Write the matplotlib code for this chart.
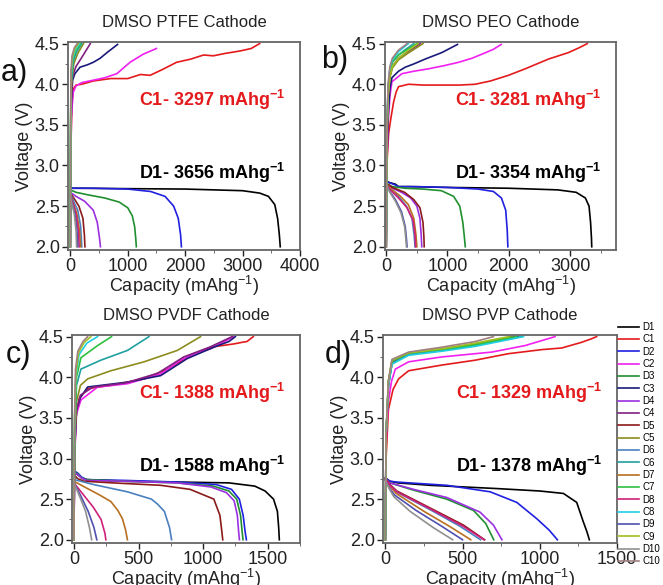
import matplotlib
matplotlib.use("Agg")
from matplotlib import pyplot as plt
from matplotlib.ticker import MultipleLocator, FormatStrFormatter

plt.rcParams['font.family'] = ['Liberation Sans', 'DejaVu Sans']
plt.rcParams['mathtext.fontset'] = 'custom'
plt.rcParams['mathtext.rm'] = 'Liberation Sans'
plt.rcParams['mathtext.bf'] = 'Liberation Sans:bold'

labels = ['D1', 'C1', 'D2', 'C2', 'D3', 'C3', 'D4', 'C4', 'D5', 'C5',
          'D6', 'C6', 'D7', 'C7', 'D8', 'C8', 'D9', 'C9', 'D10', 'C10']
colors = ['#000000', '#e41a1c', '#2020e0', '#f020f0', '#1f8f2f', '#1a1a7a',
          '#9b30e0', '#802080', '#8b1a1a', '#8c8c20', '#4a80c0', '#20a0a0',
          '#b87020', '#30c040', '#d0207a', '#20d0e0', '#5050b0', '#a0c020',
          '#909090', '#a08080']

titles = ['DMSO PTFE Cathode', 'DMSO PEO Cathode', 'DMSO PVDF Cathode', 'DMSO PVP Cathode']
panel_tags = ['a)', 'b)', 'c)', 'd)']
charge_text = ['C1- 3297 mAhg$^{\\mathbf{-1}}$', 'C1- 3281 mAhg$^{\\mathbf{-1}}$',
               'C1- 1388 mAhg$^{\\mathbf{-1}}$', 'C1- 1329 mAhg$^{\\mathbf{-1}}$']
disch_text = ['D1- 3656 mAhg$^{\\mathbf{-1}}$', 'D1- 3354 mAhg$^{\\mathbf{-1}}$',
              'D1- 1588 mAhg$^{\\mathbf{-1}}$', 'D1- 1378 mAhg$^{\\mathbf{-1}}$']

# capacity (mAh/g), voltage (V)
ptfe = {
    'D1': ([0, 30, 200, 1000, 2000, 3000, 3300, 3450, 3560, 3610, 3640, 3656],
           [2.74, 2.72, 2.72, 2.715, 2.71, 2.69, 2.66, 2.62, 2.52, 2.35, 2.15, 2.0]),
    'C1': ([0, 5, 15, 30, 60, 100, 200, 400, 700, 1000, 1220, 1390, 1600, 1850, 2100, 2320, 2490, 2700, 2960, 3150, 3297],
           [2.0, 2.7, 3.4, 3.8, 3.95, 3.99, 4.0, 4.04, 4.07, 4.07, 4.12, 4.11, 4.18, 4.27, 4.31, 4.36, 4.35, 4.38, 4.41, 4.44, 4.5]),
    'D2': ([0, 50, 400, 1000, 1400, 1650, 1800, 1880, 1920, 1935],
           [2.73, 2.72, 2.72, 2.71, 2.68, 2.62, 2.5, 2.35, 2.15, 2.0]),
    'C2': ([0, 5, 20, 50, 100, 200, 400, 600, 810, 1040, 1270, 1500],
           [2.0, 2.8, 3.6, 3.9, 3.98, 4.02, 4.05, 4.08, 4.13, 4.27, 4.37, 4.44]),
    'D3': ([0, 100, 300, 600, 850, 1000, 1080, 1120, 1140, 1150],
           [2.70, 2.67, 2.64, 2.6, 2.55, 2.48, 2.38, 2.25, 2.1, 2.0]),
    'C3': ([0, 5, 20, 40, 80, 170, 300, 400, 520, 640, 823],
           [2.0, 3.0, 3.8, 4.05, 4.13, 4.21, 4.24, 4.27, 4.32, 4.39, 4.49]),
    'D4': ([0, 100, 250, 400, 470, 510, 525],
           [2.67, 2.62, 2.56, 2.45, 2.3, 2.1, 2.0]),
    'C4': ([0, 5, 20, 40, 100, 200, 348],
           [2.0, 3.0, 3.9, 4.1, 4.22, 4.33, 4.5]),
    'D5': ([0, 60, 150, 220, 245, 255], [2.66, 2.6, 2.5, 2.35, 2.15, 2.0]),
    'C5': ([0, 5, 20, 60, 130, 230], [2.0, 3.2, 4.0, 4.25, 4.38, 4.5]),
    'D6': ([0, 50, 130, 180, 200], [2.65, 2.57, 2.45, 2.25, 2.0]),
    'C6': ([0, 5, 15, 50, 110, 200], [2.0, 3.3, 4.0, 4.28, 4.4, 4.5]),
    'D7': ([0, 40, 110, 160, 180], [2.64, 2.55, 2.42, 2.2, 2.0]),
    'C7': ([0, 5, 15, 40, 100, 180], [2.0, 3.4, 4.1, 4.3, 4.42, 4.5]),
    'D8': ([0, 40, 100, 140, 155], [2.64, 2.55, 2.4, 2.2, 2.0]),
    'C8': ([0, 5, 15, 40, 90, 160], [2.0, 3.4, 4.1, 4.32, 4.43, 4.5]),
    'D9': ([0, 30, 80, 115, 130], [2.63, 2.54, 2.4, 2.2, 2.0]),
    'C9': ([0, 5, 15, 35, 80, 140], [2.0, 3.5, 4.15, 4.33, 4.44, 4.5]),
    'D10': ([0, 25, 70, 100, 110], [2.63, 2.54, 2.4, 2.2, 2.0]),
    'C10': ([0, 5, 12, 30, 70, 120], [2.0, 3.5, 4.15, 4.35, 4.45, 4.5]),
}

peo = {
    'D1': ([0, 50, 150, 200, 400, 1000, 2000, 2800, 3100, 3250, 3310, 3335, 3350, 3354],
           [2.81, 2.79, 2.77, 2.74, 2.74, 2.73, 2.72, 2.7, 2.67, 2.6, 2.5, 2.3, 2.1, 2.0]),
    'C1': ([0, 10, 40, 80, 120, 160, 200, 364, 600, 908, 1200, 1452, 1700, 1995, 2268, 2648, 2975, 3150, 3281],
           [2.0, 3.0, 3.4, 3.6, 3.78, 3.9, 3.97, 4.0, 3.99, 3.99, 3.99, 4.0, 4.04, 4.11, 4.19, 4.31, 4.39, 4.45, 4.5]),
    'D2': ([0, 50, 150, 200, 500, 1000, 1500, 1750, 1880, 1950, 1975, 1985],
           [2.8, 2.79, 2.76, 2.74, 2.74, 2.73, 2.71, 2.68, 2.6, 2.45, 2.2, 2.0]),
    'C2': ([0, 10, 30, 60, 93, 256, 450, 690, 950, 1180, 1400, 1561, 1750, 1876],
           [2.0, 3.0, 3.5, 3.85, 4.03, 4.13, 4.16, 4.19, 4.23, 4.27, 4.32, 4.37, 4.43, 4.49]),
    'D3': ([0, 100, 300, 600, 900, 1100, 1200, 1250, 1275, 1290],
           [2.78, 2.74, 2.72, 2.71, 2.69, 2.62, 2.5, 2.3, 2.12, 2.0]),
    'C3': ([0, 10, 30, 60, 93, 200, 310, 450, 636, 908, 1163],
           [2.0, 3.0, 3.6, 3.95, 4.08, 4.16, 4.21, 4.25, 4.31, 4.39, 4.49]),
    'D4': ([0, 100, 250, 400, 500, 550, 570, 580],
           [2.78, 2.72, 2.67, 2.6, 2.5, 2.35, 2.15, 2.0]),
    'C4': ([0, 10, 30, 60, 100, 200, 350, 555], [2.0, 3.3, 3.85, 4.1, 4.22, 4.32, 4.4, 4.5]),
    'D5': ([0, 100, 300, 450, 550, 600, 615, 620],
           [2.78, 2.73, 2.67, 2.58, 2.48, 2.3, 2.12, 2.0]),
    'C5': ([0, 10, 30, 60, 100, 200, 350, 600], [2.0, 3.3, 3.85, 4.08, 4.2, 4.3, 4.38, 4.5]),
    'D6': ([0, 80, 200, 330, 420, 455, 470], [2.77, 2.7, 2.62, 2.5, 2.35, 2.15, 2.0]),
    'C6': ([0, 10, 30, 60, 100, 200, 300, 450], [2.0, 3.4, 3.9, 4.15, 4.27, 4.36, 4.42, 4.5]),
    'D7': ([0, 80, 220, 360, 450, 485, 500], [2.77, 2.71, 2.63, 2.52, 2.35, 2.15, 2.0]),
    'C7': ([0, 10, 30, 60, 100, 200, 350, 500], [2.0, 3.4, 3.95, 4.18, 4.28, 4.36, 4.43, 4.5]),
    'D8': ([0, 80, 200, 340, 440, 470, 480], [2.76, 2.69, 2.6, 2.48, 2.32, 2.14, 2.0]),
    'C8': ([0, 10, 30, 60, 100, 200, 360], [2.0, 3.4, 3.95, 4.2, 4.3, 4.4, 4.5]),
    'D9': ([0, 60, 150, 250, 310, 330, 340], [2.76, 2.68, 2.58, 2.43, 2.25, 2.1, 2.0]),
    'C9': ([0, 10, 30, 60, 100, 200, 350, 520], [2.0, 3.3, 3.85, 4.1, 4.22, 4.32, 4.41, 4.5]),
    'D10': ([0, 60, 150, 240, 300, 320, 330], [2.76, 2.67, 2.56, 2.42, 2.25, 2.1, 2.0]),
    'C10': ([0, 10, 30, 60, 100, 200, 340], [2.0, 3.4, 4.0, 4.22, 4.32, 4.42, 4.5]),
}

pvdf = {
    'D1': ([0, 30, 60, 100, 400, 800, 1200, 1400, 1480, 1545, 1575, 1585, 1590],
           [2.83, 2.8, 2.76, 2.74, 2.72, 2.71, 2.7, 2.66, 2.6, 2.5, 2.35, 2.15, 2.0]),
    'C1': ([0, 5, 15, 41, 106, 285, 543, 723, 830, 928, 1057, 1237, 1302, 1340, 1388],
           [2.0, 3.0, 3.5, 3.74, 3.86, 3.90, 3.98, 4.1, 4.2, 4.29, 4.37, 4.41, 4.43, 4.44, 4.5]),
    'D2': ([0, 30, 60, 100, 400, 800, 1100, 1220, 1280, 1310, 1325, 1335],
           [2.85, 2.82, 2.77, 2.74, 2.73, 2.71, 2.68, 2.62, 2.5, 2.3, 2.1, 2.0]),
    'C2': ([0, 5, 20, 54, 183, 414, 671, 826, 950, 1057, 1237],
           [2.0, 3.0, 3.55, 3.72, 3.88, 3.92, 4.04, 4.21, 4.3, 4.35, 4.5]),
    'D3': ([0, 30, 60, 100, 400, 800, 1080, 1200, 1260, 1290, 1302, 1309],
           [2.84, 2.81, 2.76, 2.74, 2.72, 2.7, 2.66, 2.6, 2.5, 2.3, 2.1, 2.0]),
    'C3': ([0, 5, 20, 50, 106, 414, 671, 877, 1083, 1200, 1250],
           [2.0, 3.1, 3.6, 3.75, 3.88, 3.94, 4.02, 4.23, 4.37, 4.44, 4.5]),
    'D4': ([0, 30, 60, 100, 400, 800, 1060, 1180, 1240, 1265, 1275, 1281],
           [2.83, 2.8, 2.76, 2.73, 2.72, 2.7, 2.65, 2.58, 2.48, 2.3, 2.1, 2.0]),
    'C4': ([0, 5, 20, 50, 150, 400, 650, 850, 1050, 1225],
           [2.0, 3.1, 3.6, 3.78, 3.88, 3.93, 4.05, 4.25, 4.37, 4.5]),
    'D5': ([0, 30, 80, 300, 671, 900, 1083, 1130, 1145, 1152],
           [2.8, 2.75, 2.72, 2.7, 2.67, 2.62, 2.5, 2.3, 2.1, 2.0]),
    'C5': ([0, 5, 20, 50, 106, 286, 543, 800, 980],
           [2.0, 3.2, 3.7, 3.9, 3.98, 4.08, 4.19, 4.33, 4.5]),
    'D6': ([0, 28, 150, 414, 600, 646, 700, 740, 756],
           [2.74, 2.73, 2.68, 2.59, 2.5, 2.44, 2.35, 2.15, 2.0]),
    'C6': ([0, 5, 20, 54, 208, 414, 581], [2.0, 3.3, 3.9, 4.1, 4.21, 4.33, 4.5]),
    'D7': ([0, 105, 200, 286, 340, 375, 400, 414],
           [2.72, 2.63, 2.55, 2.47, 2.36, 2.26, 2.12, 2.0]),
    'C7': ([0, 5, 20, 54, 183, 291], [2.0, 3.4, 4.0, 4.24, 4.39, 4.5]),
    'D8': ([0, 60, 150, 210, 240, 247], [2.7, 2.58, 2.4, 2.25, 2.08, 2.0]),
    'C8': ([0, 5, 15, 40, 100, 183], [2.0, 3.5, 4.0, 4.28, 4.42, 4.5]),
    'D9': ([0, 50, 110, 155, 177], [2.7, 2.55, 2.35, 2.15, 2.0]),
    'C9': ([0, 5, 15, 35, 80, 131], [2.0, 3.5, 4.05, 4.3, 4.43, 4.5]),
    'D10': ([0, 40, 90, 120, 137], [2.7, 2.55, 2.35, 2.15, 2.0]),
    'C10': ([0, 5, 12, 30, 70, 106], [2.0, 3.5, 4.1, 4.32, 4.44, 4.5]),
}

pvp = {
    'D1': ([0, 30, 80, 291, 722, 1000, 1153, 1239, 1282, 1305, 1321],
           [2.76, 2.72, 2.7, 2.67, 2.63, 2.6, 2.57, 2.46, 2.22, 2.1, 2.0]),
    'C1': ([0, 5, 20, 50, 86, 151, 366, 582, 797, 1013, 1142, 1271, 1330, 1368],
           [2.0, 3.0, 3.6, 3.85, 3.98, 4.08, 4.15, 4.21, 4.29, 4.34, 4.36, 4.43, 4.47, 4.5]),
    'D2': ([0, 30, 75, 398, 679, 851, 980, 1060, 1114],
           [2.76, 2.72, 2.71, 2.67, 2.59, 2.46, 2.26, 2.12, 2.0]),
    'C2': ([0, 5, 20, 40, 65, 151, 366, 690, 905, 1099],
           [2.0, 3.2, 3.7, 3.95, 4.1, 4.19, 4.25, 4.31, 4.39, 4.5]),
    'D3': ([0, 30, 183, 398, 571, 650, 702], [2.75, 2.7, 2.61, 2.5, 2.36, 2.2, 2.0]),
    'C3': ([0, 5, 20, 43, 151, 366, 582, 860], [2.0, 3.3, 3.9, 4.17, 4.28, 4.33, 4.39, 4.5]),
    'D4': ([0, 30, 183, 398, 613, 700, 755], [2.75, 2.7, 2.62, 2.52, 2.34, 2.18, 2.0]),
    'C4': ([0, 5, 20, 43, 151, 366, 582, 830], [2.0, 3.3, 3.9, 4.18, 4.29, 4.34, 4.4, 4.5]),
    'D5': ([0, 30, 75, 291, 506, 643], [2.75, 2.68, 2.6, 2.39, 2.18, 2.0]),
    'C5': ([0, 5, 20, 43, 151, 366, 582, 820], [2.0, 3.3, 3.95, 4.2, 4.3, 4.35, 4.41, 4.5]),
    'D6': ([0, 30, 80, 300, 480, 617], [2.74, 2.67, 2.58, 2.36, 2.17, 2.0]),
    'C6': ([0, 5, 20, 43, 151, 366, 582, 880], [2.0, 3.3, 3.9, 4.17, 4.28, 4.33, 4.39, 4.5]),
    'D7': ([0, 30, 70, 250, 420, 553], [2.74, 2.66, 2.57, 2.35, 2.16, 2.0]),
    'C7': ([0, 5, 20, 43, 151, 366, 582, 850], [2.0, 3.3, 3.95, 4.2, 4.3, 4.34, 4.4, 4.5]),
    'D8': ([0, 30, 75, 291, 500, 640], [2.75, 2.67, 2.59, 2.38, 2.17, 2.0]),
    'C8': ([0, 5, 20, 43, 151, 366, 582, 895], [2.0, 3.3, 3.9, 4.16, 4.27, 4.32, 4.38, 4.5]),
    'D9': ([0, 25, 60, 200, 370, 500], [2.73, 2.64, 2.55, 2.36, 2.16, 2.0]),
    'C9': ([0, 5, 20, 43, 151, 366, 582, 800], [2.0, 3.3, 3.95, 4.21, 4.3, 4.35, 4.42, 4.5]),
    'D10': ([0, 25, 55, 160, 310, 436], [2.73, 2.63, 2.53, 2.35, 2.15, 2.0]),
    'C10': ([0, 5, 20, 43, 151, 366, 582, 700], [2.0, 3.3, 3.95, 4.22, 4.31, 4.37, 4.44, 4.5]),
}

panels = [ptfe, peo, pvdf, pvp]
xlims = [(-40, 4000), (-20, 3750), (-15, 1750), (-15, 1500)]
xmajor = [1000, 1000, 500, 500]
xminor = [500, 500, 250, 250]

fig = plt.figure(figsize=(6.63, 5.85), dpi=100)
W, H = 663.0, 585.0
boxes = [(68, 42, 300, 250), (385, 42, 616, 250), (72, 335, 300, 543), (383, 335, 617, 543)]
tag_pos = [(1, 73), (321, 60), (6, 355), (325, 355)]

for i, data in enumerate(panels):
    l, t, r, b = boxes[i]
    ax = fig.add_axes([l / W, 1 - b / H, (r - l) / W, (b - t) / H])
    for lab, col in zip(labels, colors):
        x, v = data[lab]
        ax.plot(x, v, color=col, lw=1.2, label=lab)
    ax.set_xlim(*xlims[i])
    ax.set_ylim(1.96, 4.52)
    ax.xaxis.set_major_locator(MultipleLocator(xmajor[i]))
    ax.xaxis.set_minor_locator(MultipleLocator(xminor[i]))
    ax.yaxis.set_major_locator(MultipleLocator(0.5))
    ax.yaxis.set_minor_locator(MultipleLocator(0.25))
    ax.yaxis.set_major_formatter(FormatStrFormatter('%.1f'))
    ax.tick_params(labelsize=13, colors='#222222', width=1, length=4, pad=2)
    ax.tick_params(which='minor', length=2.5, colors='#555555')
    for sp in ax.spines.values():
        sp.set_color('#666666')
        sp.set_linewidth(1.3)
    ax.set_xlabel('Capacity (mAhg$^{-1}$)', fontsize=13, color='#222222', labelpad=-1)
    ax.set_ylabel('Voltage (V)', fontsize=13, color='#222222', labelpad=1)
    ax.set_title(titles[i], fontsize=12, color='#222222', pad=11)
    ax.text(0.935, 0.72, charge_text[i], transform=ax.transAxes, ha='right', va='center',
            color='#e41a1c', fontsize=13, fontweight='bold')
    ax.text(0.935, 0.37, disch_text[i], transform=ax.transAxes, ha='right', va='center',
            color='black', fontsize=13, fontweight='bold')
    fig.text(tag_pos[i][0] / W, 1 - tag_pos[i][1] / H, panel_tags[i], fontsize=22,
             ha='left', va='center', color='#111111')
    if i == 3:
        handles, labs = ax.get_legend_handles_labels()

fig.legend(handles, labs, loc='upper left', bbox_to_anchor=(618 / W, 1 - 322 / H),
           frameon=False, fontsize=7, handlelength=2.2, handletextpad=0.3,
           labelspacing=0.24, borderaxespad=0, borderpad=0)

fig.savefig('out.png', dpi=100)
